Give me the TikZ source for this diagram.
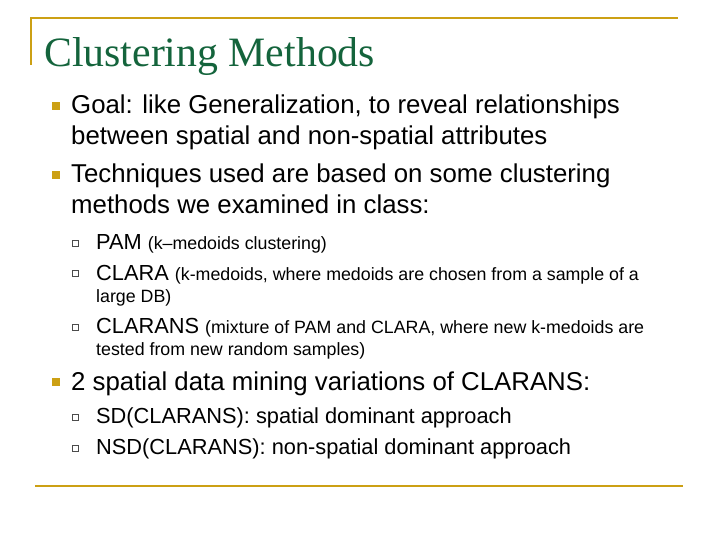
\documentclass[tikz,border=0pt]{standalone}
\usepackage{fontspec}
\setmainfont{Liberation Sans}
\newfontfamily\serifttl{Liberation Serif}
\definecolor{gold}{RGB}{204,160,20}
\definecolor{ttl}{RGB}{20,100,60}
\begin{document}
\begin{tikzpicture}[x=1pt,y=-1pt,
  t/.style={anchor=base west,inner sep=0pt,font=\fontsize{25.8}{25}\selectfont},
  s/.style={anchor=base west,inner sep=0pt,font=\fontsize{21.8}{21}\selectfont},
  sm/.style={anchor=base west,inner sep=0pt,font=\fontsize{17.8}{17}\selectfont},
  mb/.style={fill=gold,minimum size=8pt,inner sep=0pt},
  sb/.style={draw=black!70,line width=0.6pt,fill=white,minimum size=6pt,inner sep=0pt}]
\useasboundingbox (0,0) rectangle (720,540);
\draw[gold,line width=2.5pt] (31,65) -- (31,18) -- (678,18);
\draw[gold,line width=2.5pt] (35,486) -- (683,486);
\node[anchor=base west,inner sep=0pt,text=ttl,font=\serifttl\fontsize{41.8}{41}\selectfont] (title) at (44,67) {Clustering Methods};
\node[mb] (b1) at (56,106) {};
\node[t] (l1) at (71,114) {Goal: like Generalization, to reveal relationships};
\node[t] (l2) at (71,145) {between spatial and non-spatial attributes};
\node[mb] (b2) at (56,175) {};
\node[t] (l3) at (71,183) {Techniques used are based on some clustering};
\node[t] (l4) at (71,214) {methods we examined in class:};
\node[sb] (c1) at (75,243) {};
\node[s] (p1) at (96,249) {PAM \fontsize{17.8}{17}\selectfont(k–medoids clustering)};
\node[sb] (c2) at (75,273) {};
\node[s] (p2) at (96,280) {CLARA \fontsize{17.8}{17}\selectfont(k-medoids, where medoids are chosen from a sample of a};
\node[sm] (p2b) at (96,302) {large DB)};
\node[sb] (c3) at (75,327) {};
\node[s] (p3) at (96,333) {CLARANS \fontsize{17.8}{17}\selectfont(mixture of PAM and CLARA, where new k-medoids are};
\node[sm] (p3b) at (96,355) {tested from new random samples)};
\node[mb] (b3) at (56,382) {};
\node[t] (l5) at (71,390) {2 spatial data mining variations of CLARANS:};
\node[sb] (c4) at (75,417) {};
\node[s] (q1) at (96,423) {SD(CLARANS): spatial dominant approach};
\node[sb] (c5) at (75,448) {};
\node[s] (q2) at (96,454) {NSD(CLARANS): non-spatial dominant approach};
\end{tikzpicture}
\end{document}
